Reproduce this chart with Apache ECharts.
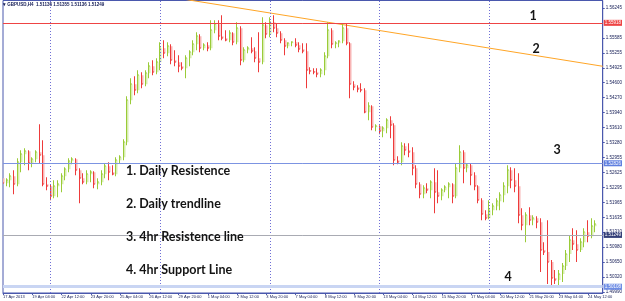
<!DOCTYPE html>
<html><head><meta charset="utf-8">
<script src="https://cdn.jsdelivr.net/npm/echarts@6/dist/echarts.min.js"></script>
<style>html,body{margin:0;padding:0;background:#fff}#c{width:625px;height:301px}</style>
</head><body><div id="c"></div>
<script>
// GBPUSD H4 bars, from 17 Apr 2013 20:00
const opens = [
1.52498,1.52388,1.52454,1.52542,1.52366,1.52850,1.53026,1.53092,1.52828,1.52916,
1.53070,1.53004,1.52366,1.52322,1.52102,1.52322,1.52366,1.52542,1.52696,1.52872,
1.52916,1.52674,1.52498,1.52410,1.52586,1.52630,1.52366,1.52410,1.52586,1.52762,
1.52630,1.52586,1.52894,1.52960,1.53290,1.54214,1.54566,1.54434,1.54764,1.54566,
1.54808,1.54962,1.54830,1.55050,1.55358,1.55248,1.55402,1.55094,1.55050,1.54962,
1.54918,1.55138,1.55270,1.55446,1.55622,1.55358,1.55424,1.55358,1.55754,1.55886,
1.55622,1.55578,1.55534,1.55688,1.55490,1.55798,1.55094,1.55314,1.55358,1.55292,
1.55138,1.55050,1.55864,1.55666,1.55930,1.55798,1.55688,1.55534,1.55402,1.55468,
1.55490,1.55424,1.55336,1.55292,1.54874,1.54852,1.54830,1.54786,1.54874,1.55182,
1.55754,1.55446,1.55468,1.55512,1.55798,1.55468,1.54566,1.54500,1.54456,1.54434,
1.53950,1.54082,1.53620,1.53642,1.53532,1.53598,1.53774,1.53664,1.52894,1.52850,
1.53202,1.53114,1.53070,1.52718,1.52366,1.52146,1.52278,1.52234,1.52410,1.52190,
1.52102,1.52234,1.52300,1.52366,1.52102,1.52718,1.53070,1.52718,1.52784,1.52564,
1.52322,1.52014,1.51706,1.51618,1.51794,1.51882,1.51992,1.52124,1.52322,1.52674,
1.52454,1.52322,1.51684,1.51464,1.51684,1.51574,1.51618,1.51530,1.50914,1.50870,
1.50650,1.50298,1.50254,1.50386,1.50562,1.50826,1.51134,1.51046,1.50914,1.51090,
1.51310,1.51222,1.51442];
const highs = [
1.52520,1.52498,1.52608,1.52674,1.52938,1.53114,1.53158,1.53114,1.52960,1.53114,
1.53686,1.53334,1.52520,1.52366,1.52454,1.52454,1.52608,1.52740,1.52938,1.52960,
1.52938,1.52718,1.52608,1.52674,1.52674,1.52652,1.52498,1.52674,1.52828,1.52850,
1.52784,1.52960,1.53004,1.53356,1.54302,1.54698,1.54742,1.54874,1.54830,1.54874,
1.55050,1.55094,1.55138,1.55490,1.55534,1.55490,1.55446,1.55314,1.55204,1.55050,
1.55204,1.55314,1.55534,1.55710,1.55666,1.55468,1.55490,1.55974,1.55974,1.55974,
1.56084,1.55754,1.55754,1.55710,1.55930,1.55842,1.55380,1.55402,1.55600,1.55380,
1.55710,1.56040,1.55930,1.56040,1.56084,1.55908,1.55732,1.55578,1.55490,1.55512,
1.55578,1.55490,1.55468,1.55468,1.54940,1.54918,1.54918,1.54918,1.55270,1.55930,
1.55798,1.55512,1.55534,1.55908,1.55908,1.55490,1.54632,1.54544,1.54588,1.54478,
1.54170,1.54104,1.53686,1.53664,1.53642,1.53818,1.53862,1.53708,1.52982,1.53290,
1.53268,1.53268,1.53180,1.52784,1.52410,1.52344,1.52388,1.52454,1.52718,1.52674,
1.52278,1.52344,1.52410,1.52388,1.52828,1.53224,1.53114,1.52828,1.52828,1.52630,
1.52344,1.52058,1.51794,1.52014,1.51948,1.52058,1.52190,1.52410,1.52784,1.52740,
1.52718,1.52608,1.51838,1.51750,1.51860,1.51684,1.51662,1.51618,1.51090,1.51574,
1.50694,1.50474,1.50474,1.50628,1.50914,1.51244,1.51398,1.51354,1.51178,1.51398,
1.51574,1.51618,1.51574];
const lows = [
1.52322,1.52322,1.52300,1.52146,1.52322,1.52630,1.52784,1.52674,1.52740,1.52850,
1.52828,1.52322,1.52234,1.52014,1.52058,1.52080,1.52190,1.52454,1.52630,1.52806,
1.52564,1.51948,1.52366,1.52366,1.52410,1.52278,1.52256,1.52344,1.52498,1.52454,
1.52564,1.52542,1.52828,1.52894,1.53224,1.54126,1.54324,1.54368,1.54478,1.54522,
1.54698,1.54764,1.54786,1.54874,1.55138,1.55182,1.55006,1.54962,1.54830,1.54874,
1.54698,1.54962,1.55204,1.55314,1.55270,1.55314,1.55292,1.55314,1.55688,1.55534,
1.55534,1.55512,1.55490,1.55424,1.55446,1.54984,1.55050,1.55248,1.55248,1.55050,
1.54830,1.55006,1.55578,1.55600,1.55710,1.55600,1.55468,1.55204,1.55358,1.55402,
1.55380,1.55270,1.55248,1.54478,1.54786,1.54786,1.54720,1.54720,1.54764,1.55138,
1.55358,1.55358,1.55380,1.55468,1.55424,1.54258,1.54434,1.54390,1.54390,1.53928,
1.53774,1.53554,1.53532,1.53466,1.53400,1.53488,1.53378,1.52784,1.52806,1.52784,
1.53004,1.52960,1.52564,1.52278,1.52058,1.52058,1.52168,1.52058,1.51728,1.51948,
1.52014,1.52190,1.52058,1.51948,1.52058,1.52630,1.52388,1.52630,1.52344,1.52234,
1.51948,1.51574,1.51574,1.51596,1.51684,1.51794,1.51794,1.51970,1.52168,1.52278,
1.52190,1.51508,1.51354,1.51090,1.51464,1.51464,1.51398,1.50430,1.50804,1.50166,
1.50122,1.50166,1.50144,1.50210,1.50474,1.50650,1.50914,1.50650,1.50870,1.50980,
1.51090,1.51178,1.51310];
const closes = [
1.52388,1.52454,1.52542,1.52366,1.52850,1.53026,1.53092,1.52828,1.52916,1.53070,
1.53004,1.52366,1.52322,1.52102,1.52322,1.52366,1.52542,1.52696,1.52872,1.52916,
1.52674,1.52498,1.52410,1.52586,1.52630,1.52366,1.52410,1.52586,1.52762,1.52630,
1.52586,1.52894,1.52960,1.53290,1.54214,1.54566,1.54434,1.54764,1.54566,1.54808,
1.54962,1.54830,1.55050,1.55358,1.55248,1.55402,1.55094,1.55050,1.54962,1.54918,
1.55138,1.55270,1.55446,1.55622,1.55358,1.55424,1.55358,1.55754,1.55886,1.55622,
1.55578,1.55534,1.55688,1.55490,1.55798,1.55094,1.55314,1.55358,1.55292,1.55138,
1.55050,1.55864,1.55666,1.55930,1.55798,1.55688,1.55534,1.55402,1.55468,1.55490,
1.55424,1.55336,1.55292,1.54874,1.54852,1.54830,1.54786,1.54874,1.55182,1.55754,
1.55446,1.55468,1.55512,1.55798,1.55468,1.54566,1.54500,1.54456,1.54434,1.53950,
1.54082,1.53620,1.53642,1.53532,1.53598,1.53774,1.53664,1.52894,1.52850,1.53202,
1.53114,1.53070,1.52718,1.52366,1.52146,1.52278,1.52234,1.52410,1.52190,1.52102,
1.52234,1.52300,1.52366,1.52102,1.52718,1.53070,1.52718,1.52784,1.52564,1.52322,
1.52014,1.51706,1.51618,1.51794,1.51882,1.51992,1.52124,1.52322,1.52674,1.52454,
1.52322,1.51684,1.51464,1.51684,1.51574,1.51618,1.51530,1.50914,1.50870,1.50650,
1.50298,1.50254,1.50386,1.50562,1.50826,1.51134,1.51046,1.50914,1.51090,1.51310,
1.51222,1.51442,1.51486];

// x-axis labels, one every 8 bars starting at bar 0
const xTickLabels = ['17 Apr 2013','19 Apr 04:00','22 Apr 12:00','23 Apr 20:00','25 Apr 04:00','26 Apr 12:00',
 '29 Apr 20:00','1 May 04:00','2 May 12:00','3 May 20:00','7 May 04:00','8 May 12:00','9 May 20:00',
 '13 May 04:00','14 May 12:00','15 May 20:00','17 May 04:00','20 May 12:00','21 May 20:00','23 May 04:00','24 May 12:00'];
const xLabelEvery = 8;
// price scale labels
const yTickLabels = ['1.49990','1.50320','1.50650','1.50980','1.51310','1.51635','1.51965','1.52295','1.52625','1.52955',
 '1.53280','1.53610','1.53940','1.54270','1.54600','1.54925','1.55255','1.55585','1.55915','1.56245'];
// week separators (bar index of Monday 00:00)
const separatorBars = [13, 43, 73, 103, 133];
// horizontal levels: daily resistance, 4hr resistance, bid, 4hr support
const levelValues = [1.55918, 1.52826, 1.51249, 1.50108];
// daily trendline: two anchor points (bar index, price)
const trendBars = [40, 164];
const trendPrices = [1.56561, 1.54962];
const headerText = '\u25BE GBPUSD,H4  1.51136 1.51355 1.51136 1.51249';
const notes = ['1. Daily Resistence', '2. Daily trendline', '3. 4hr Resistence line', '4. 4hr Support Line'];
const markers = ['1', '2', '3', '4'];

const slotCount = opens.length + 2;
const categories = Array.from({length: slotCount}, (_, i) => String(i));
const levelStyles = [
  {color:'#ee4444', width:1, box:'#ee4444'},
  {color:'#7c94e2', width:1, box:'#5f7fe0'},
  {color:'#a9abb3', width:1, box:'#343f78'},
  {color:'#c9d5f3', width:3, box:'#6f8ee6'}
];
const AX = '#4a58ad', TXT = '#141c55';
const yTickValues = yTickLabels.map(Number).filter(v => !levelValues.some(l => Math.abs(l - v) < 0.0005));

const chart = echarts.init(document.getElementById('c'), null, {renderer:'canvas'});
const showLbl = i => i % xLabelEvery === 0 && i / xLabelEvery < xTickLabels.length;

chart.setOption({
  animation:false,
  backgroundColor:'#fff',
  grid:{left:1, right:22, top:0.5, bottom:8, show:true, borderColor:AX, borderWidth:1, backgroundColor:'#fff'},
  xAxis:{type:'category', data:categories, boundaryGap:false,
    axisLine:{show:true, lineStyle:{color:AX}},
    axisTick:{show:true, length:2, interval:(i)=>showLbl(i), lineStyle:{color:AX}},
    axisLabel:{show:true, interval:(i)=>showLbl(i), formatter:(v,i)=>xTickLabels[i/xLabelEvery]||'',
      fontSize:4, color:TXT, align:'left', margin:2, fontFamily:'Liberation Sans'},
    splitLine:{show:false}},
  yAxis:{type:'value', position:'right', min:1.4997, max:1.5641, scale:true,
    axisLine:{show:true, lineStyle:{color:AX}},
    axisTick:{show:true, length:2, customValues:yTickValues, lineStyle:{color:AX}},
    axisLabel:{show:true, customValues:yTickValues, formatter:v=>v.toFixed(5), fontSize:4.5, color:TXT, margin:3, fontFamily:'Liberation Sans'},
    splitLine:{show:false}},
  series:[
    {type:'custom', clip:true, z:3,
     data: opens.map((o,i)=>[i, o, closes[i], lows[i], highs[i]]),
     encode:{x:0, y:[1,2,3,4]},
     renderItem:(params, api)=>{
       const i = api.value(0), o = api.value(1), c = api.value(2), l = api.value(3), h = api.value(4);
       const pO = api.coord([i,o]), pC = api.coord([i,c]), pL = api.coord([i,l]), pH = api.coord([i,h]);
       const x = Math.round(pO[0]);
       const up = c >= o;
       const dark = up ? '#9acb38' : '#ee3b3b';
       const light = up ? '#d7edb0' : '#f8b6b6';
       const top = Math.min(pO[1], pC[1]), bot = Math.max(pO[1], pC[1]);
       return {type:'group', children:[
         {type:'rect', shape:{x:x, y:top, width:1.5, height:Math.max(1, bot-top)}, style:{fill:light}},
         {type:'rect', shape:{x:x-1, y:pH[1], width:1, height:Math.max(1, pL[1]-pH[1])}, style:{fill:dark}},
         {type:'rect', shape:{x:x, y:Math.round(pC[1])-0.5, width:1, height:1}, style:{fill:dark}}
       ]};
     }},
    {type:'line', z:2, data: trendBars.map((b,k)=>[b, trendPrices[k]]), symbol:'none', clip:true,
     lineStyle:{color:'#ffa526', width:1}, silent:true,
     markLine:{silent:true, symbol:['none','none'], animation:false, precision:5,
       data:[
         ...separatorBars.map(b=>({xAxis:b, lineStyle:{color:'#6f6fd6', width:1, type:[1,2]}, label:{show:false}})),
         ...levelValues.map((v,k)=>({yAxis:v, lineStyle:{color:levelStyles[k].color, width:levelStyles[k].width, type:'solid'},
           label:{show:true, position:'end', distance:1, formatter:v.toFixed(5), backgroundColor:levelStyles[k].box,
             color:'#fff', fontSize:4.5, padding:[1,1,0,1], fontFamily:'Liberation Sans'}}))
       ]}}
  ],
  graphic:[
    {type:'text', x:3, y:2, z:10, style:{text:headerText, font:'bold 4.5px "Liberation Sans"', fill:TXT}},
    ...notes.map((t,k)=>({type:'text', x:126, y:[171,204,237,270][k], z:10,
      style:{text:t, font:'bold 12.5px Lato', fill:'#141414', verticalAlign:'middle'}})),
    ...markers.map((t,k)=>({type:'text', x:[533,536,557,508][k], y:[16,49,150,277][k], z:10,
      style:{text:t, font:'bold 12.5px Lato', fill:'#141414', verticalAlign:'middle', align:'center'}}))
  ]
});
</script></body></html>
